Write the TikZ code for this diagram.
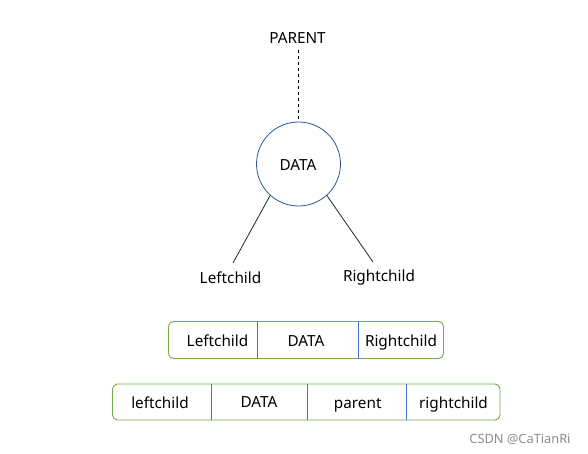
\documentclass[tikz,border=0pt]{standalone}
\usepackage{fontspec}
\setmainfont{Noto Sans}
\begin{document}
\begin{tikzpicture}[x=1pt,y=-1pt,
  lbl/.style={inner sep=0pt,anchor=base,font=\fontsize{15.3}{17}\selectfont},
  divline/.style={draw=lblue,line width=0.8pt},
  outer/.style={draw=grn,line width=0.9pt,rounded corners=5pt}]
\definecolor{grn}{HTML}{70AD47}
\definecolor{dblue}{HTML}{2F5597}
\definecolor{lblue}{HTML}{4472C4}
\useasboundingbox (0,0) rectangle (588,454);
\fill[white] (0,0) rectangle (588,454);
% tree
\node[lbl] (parent) at (297.5,43.3) {PARENT};
\node[draw=dblue,line width=0.8pt,circle,minimum size=84pt,inner sep=0pt] (data) at (298.5,164) {};
\node[lbl] (datat) at (298,170.7) {DATA};
\node[lbl] (lc) at (230.5,283.3) {Leftchild};
\node[lbl] (rc) at (379,281.7) {Rightchild};
\coordinate (ptop) at (298.5,50);
\draw[dashed,line width=0.8pt] (ptop) -- (data.north);
\coordinate (lcend) at (233,263);
\coordinate (rcend) at (373,262);
\draw[line width=0.8pt,black!85] (data.-132) -- (lcend);
\draw[line width=0.8pt,black!85] (data.-48) -- (rcend);
% box 1
\coordinate (b1tl) at (168.5,321.5);
\coordinate (b1br) at (443.5,358.5);
\draw[outer] (b1tl) rectangle (b1br);
\coordinate (d1a) at (257.5,321.5); \coordinate (d1b) at (257.5,358.5);
\coordinate (d2a) at (358.5,321.5); \coordinate (d2b) at (358.5,358.5);
\draw[divline] (d1a) -- (d1b);
\draw[divline] (d2a) -- (d2b);
\node[lbl] (b1l) at (217.5,346.3) {Leftchild};
\node[lbl] (b1d) at (306,346.3) {DATA};
\node[lbl] (b1r) at (401,346.3) {Rightchild};
% box 2
\coordinate (b2tl) at (112.5,384);
\coordinate (b2br) at (500,420);
\draw[outer] (b2tl) rectangle (b2br);
\coordinate (e1a) at (211.5,384); \coordinate (e1b) at (211.5,420);
\coordinate (e2a) at (307.5,384); \coordinate (e2b) at (307.5,420);
\coordinate (e3a) at (406,384); \coordinate (e3b) at (406,420);
\draw[divline] (e1a) -- (e1b);
\draw[divline] (e2a) -- (e2b);
\draw[divline] (e3a) -- (e3b);
\node[lbl] (b2l) at (160,408.7) {leftchild};
\node[lbl] (b2d) at (259,407.7) {DATA};
\node[lbl] (b2p) at (357.7,408.3) {parent};
\node[lbl] (b2r) at (453.5,408.7) {rightchild};
% watermark
\node[inner sep=0pt,anchor=base,font=\fontsize{12.8}{15}\selectfont,text=black!45] (wm) at (520,443) {CSDN @CaTianRi};
\end{tikzpicture}
\end{document}
